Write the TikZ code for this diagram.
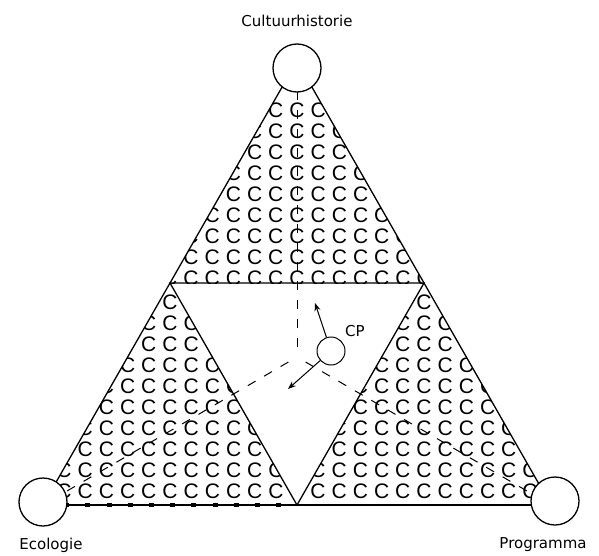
\documentclass[tikz,border=0pt]{standalone}
\usepackage{fontspec}
\setsansfont{DejaVu Sans}
\newfontfamily\cfont{Liberation Sans}
\usetikzlibrary{arrows.meta, calc}

\begin{document}
\begin{tikzpicture}[x=1pt, y=-1pt, >={Stealth[length=8pt, width=6pt]}, line width=1.3pt,
    corner/.style={draw, circle, fill=white, minimum size=48pt, inner sep=0pt},
    pnt/.style={draw, circle, fill=white, minimum size=28pt, inner sep=0pt, line width=1pt},
    median/.style={line width=1pt, dash pattern=on 9pt off 10pt, dash phase=9pt},
    cc/.style={font=\cfont\fontsize{21}{21}\selectfont, inner sep=0pt},
    lbl/.style={font=\sffamily\fontsize{15}{15}\selectfont, inner sep=1pt}]

  \useasboundingbox (0,0) rectangle (599,556);

  \def\dx{21.2}  % column step of the C grid
  \def\dy{21}    % row step of the C grid
  \def\sl{0.572} % half width per unit of height

  % main triangle, side midpoints, centre
  \coordinate (T) at (297,61);
  \coordinate (L) at (43,505);
  \coordinate (R) at (551,505);
  \coordinate (ML) at ($(T)!0.5!(L)$);
  \coordinate (MR) at ($(T)!0.5!(R)$);
  \coordinate (MB) at ($(L)!0.5!(R)$);
  \coordinate (G) at (297,357);

  % C fill of the three corner triangles (only columns that reach inside)
  \begin{scope}
    \clip (T) -- (ML) -- (MR) -- cycle;
    \foreach \r in {0,...,8}{
      \pgfmathtruncatemacro\n{((49+\r*\dy)*\sl+6)/\dx}
      \foreach \c in {-\n,...,\n}
        \node[cc] at (297+\c*\dx, 110+\r*\dy) {C};
    }
  \end{scope}
  \begin{scope}
    \clip (ML) -- (L) -- (MB) -- cycle;
    \foreach \r in {0,...,9}{
      \pgfmathtruncatemacro\n{((19+\r*\dy)*\sl+6)/\dx}
      \foreach \c in {-\n,...,\n}
        \node[cc] at (170+\c*\dx, 302+\r*\dy) {C};
    }
  \end{scope}
  \begin{scope}
    \clip (MR) -- (MB) -- (R) -- cycle;
    \foreach \r in {0,...,9}{
      \pgfmathtruncatemacro\n{((19+\r*\dy)*\sl+6)/\dx}
      \foreach \c in {-\n,...,\n}
        \node[cc] at (424+\c*\dx, 302+\r*\dy) {C};
    }
  \end{scope}

  % outlines
  \draw (T) -- (L) -- (R) -- cycle;
  \draw (ML) -- (MR) -- (MB) -- cycle;
  \draw[line width=2pt] (L) -- (R);
  \draw[line width=3.5pt, dash pattern=on 5pt off 16.2pt] (L) -- (MB);

  % medians from the centre
  \foreach \v in {T,L,R}
    \draw[median] (G) -- (\v);

  % corner circles
  \node[corner] (top) at (297,68) {};
  \node[corner] (eco) at (43,502) {};
  \node[corner] (prog) at (555,501) {};

  % point CP and its moves
  \node[pnt] (cp) at (331,351) {};
  \coordinate (up) at (315,303);
  \coordinate (dn) at (288,389);
  \draw[->, line width=1pt] (cp) -- (up);
  \draw[->, line width=1pt] (cp) -- (dn);
  \node[lbl] (cpl) at (355,331) {CP};

  % labels
  \node[lbl] (lt) at (297,21) {Cultuurhistorie};
  \node[lbl] (ll) at (51,545) {Ecologie};
  \node[lbl] (lr) at (543,545) {Programma};

\end{tikzpicture}
\end{document}
